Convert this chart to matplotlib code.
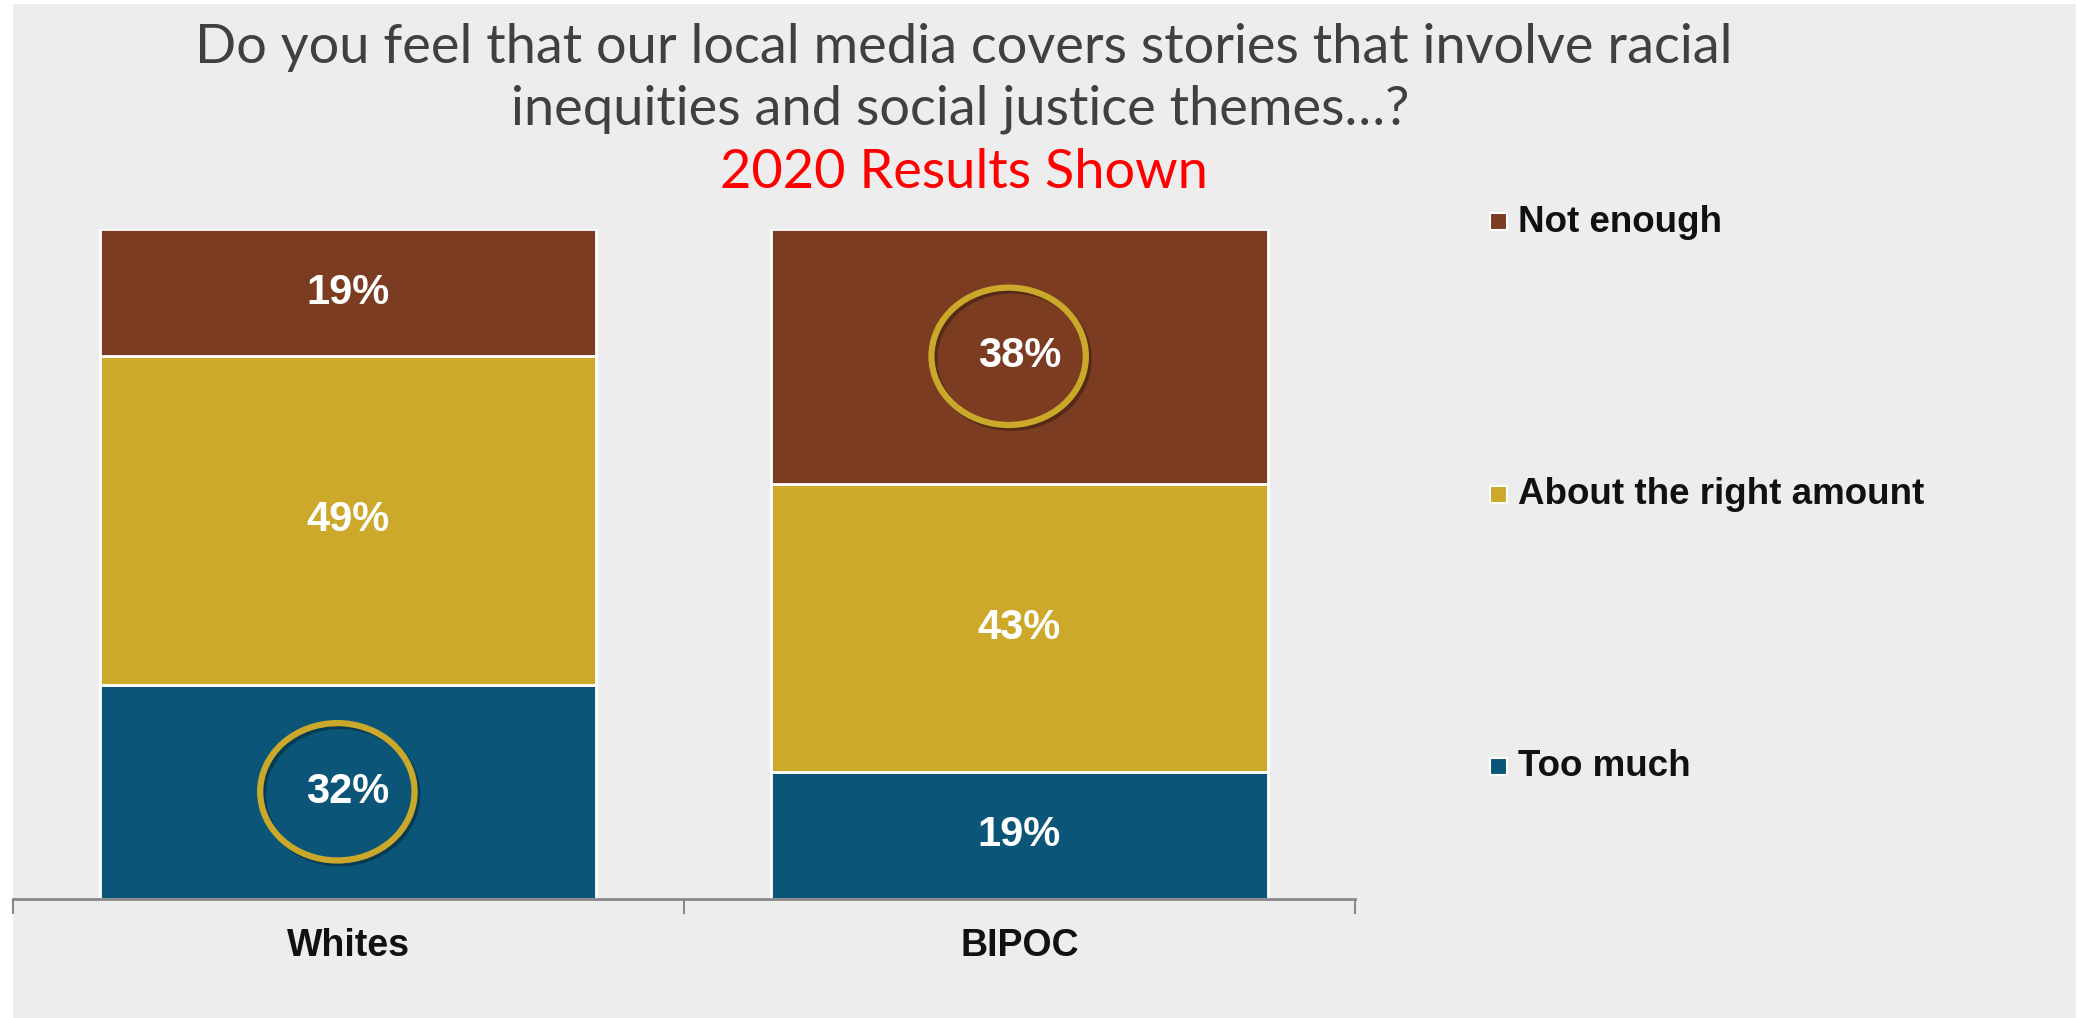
import numpy as np
import matplotlib.pyplot as plt
from matplotlib.patches import Rectangle, Ellipse
import matplotlib.patheffects as pe

# datos de la encuesta (2020)
grupos = ['Whites', 'BIPOC']
respuestas = ['Too much', 'About the right amount', 'Not enough']
too_much = [0.32, 0.19]
right_amount = [0.49, 0.43]
not_enough = [0.19, 0.38]
colores = ['#0B5579', '#CCA92A', '#7B3C21']
# segmentos que van marcados con un circulo (grupo, respuesta)
marcados = [(0, 0), (1, 2)]

W, H = 2088, 1018
fig = plt.figure(figsize=(W / 100, H / 100), dpi=100, facecolor='white')
fig.patches.append(Rectangle((13 / W, 0), (2076 - 13) / W, (1018 - 4) / H,
                             transform=fig.transFigure, facecolor='#EDEDED',
                             edgecolor='none', zorder=-10))

ax = fig.add_axes([12.5 / W, (H - 899) / H, (1355 - 12.5) / W, (899 - 229) / H])
ax.set_facecolor('none')

x = np.arange(len(grupos))
series = [too_much, right_amount, not_enough]
base = np.zeros(len(grupos))
for i, vals in enumerate(series):
    vals = np.array(vals)
    ax.bar(x, vals, 0.74, bottom=base, color=colores[i], edgecolor='white',
           linewidth=2, zorder=2)
    for j in range(len(grupos)):
        yc = base[j] + vals[j] / 2
        ax.text(x[j], yc, '%d%%' % round(vals[j] * 100), ha='center', va='center',
                color='white', fontsize=30, fontweight='bold',
                family='Liberation Sans', zorder=4)
        if (j, i) in marcados:
            e = Ellipse((x[j] - 0.016, yc), 0.23, 0.205, facecolor='none',
                        edgecolor='#C9A82A', linewidth=4.5, zorder=3,
                        path_effects=[pe.SimpleLineShadow(offset=(2, -2), alpha=0.3),
                                      pe.Normal()])
            ax.add_patch(e)
    base = base + vals

ax.set_xlim(-0.5, 1.5)
ax.set_ylim(0, 1)
ax.set_yticks([])
for s in ['top', 'right', 'left']:
    ax.spines[s].set_visible(False)
ax.spines['bottom'].set_color('#888888')
ax.spines['bottom'].set_linewidth(2)
ax.set_xticks([-0.5, 0.5, 1.5])
ax.set_xticklabels([])
ax.tick_params(axis='x', length=11, width=1.5, color='#888888')
for j, g in enumerate(grupos):
    ax.text(x[j], -0.07, g, ha='center', va='center', fontsize=27,
            fontweight='bold', family='Liberation Sans', color='#111111')

# leyenda manual
ley_y = [222, 495, 767]
for k, i in enumerate([2, 1, 0]):
    yy = ley_y[k]
    fig.patches.append(Rectangle((1490 / W, (H - yy - 8) / H), 17 / W, 17 / H,
                                 transform=fig.transFigure, facecolor=colores[i],
                                 edgecolor='white', linewidth=1.5, zorder=3))
    fig.text(1518 / W, (H - yy) / H, respuestas[i], ha='left', va='center',
             fontsize=26.5, fontweight='bold', family='Liberation Sans', color='#111111')

fig.text(964 / W, (H - 47) / H, 'Do you feel that our local media covers stories that involve racial',
         ha='center', va='center', fontsize=39, family='Lato', color='#404040')
fig.text(960 / W, (H - 109) / H, 'inequities and social justice themes…?',
         ha='center', va='center', fontsize=39, family='Lato', color='#404040')
fig.text(964 / W, (H - 172) / H, '2020 Results Shown',
         ha='center', va='center', fontsize=39, family='Lato', color='#FF0000')

fig.savefig('out.png', dpi=100, facecolor='white')
